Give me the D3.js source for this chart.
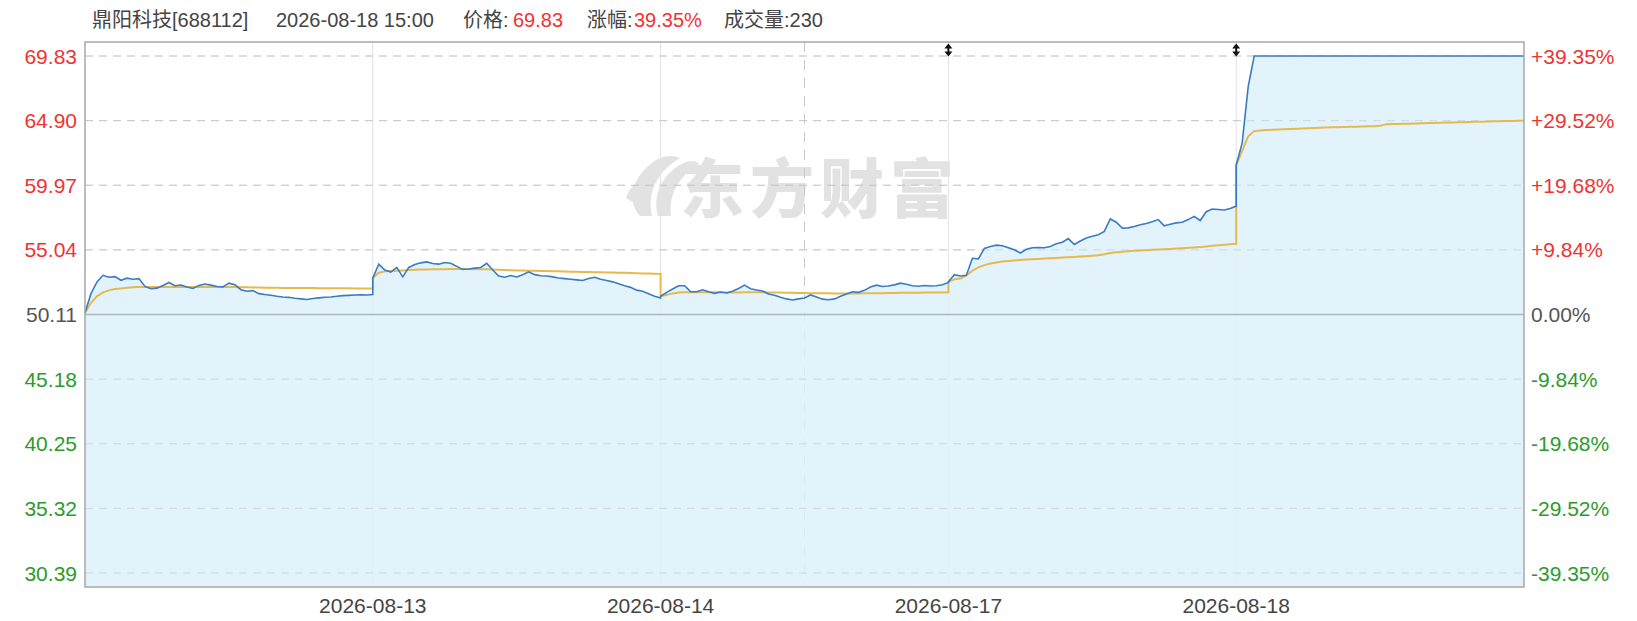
<!DOCTYPE html>
<html>
<head>
<meta charset="utf-8">
<script src="https://cdn.jsdelivr.net/npm/d3@7"></script>
<style>
  html, body { margin: 0; padding: 0; background: #fff; }
  svg { display: block; }
  text { font-family: "Liberation Sans", Arial, "Noto Sans CJK SC", sans-serif; }
</style>
</head>
<body>
<svg id="chart" width="1637" height="621"></svg>
<script>
// ---------------- data ----------------
const dayLabels = ["2026-08-12", "2026-08-13", "2026-08-14", "2026-08-17", "2026-08-18"];
const prevClose = 50.11;
const priceTicks = [69.83, 64.90, 59.97, 55.04, 50.11, 45.18, 40.25, 35.32, 30.39];
const priceTickLabels = ["69.83", "64.90", "59.97", "55.04", "50.11", "45.18", "40.25", "35.32", "30.39"];
const pctTickLabels = ["+39.35%", "+29.52%", "+19.68%", "+9.84%", "0.00%", "-9.84%", "-19.68%", "-29.52%", "-39.35%"];
const minutesPerDay = 240;
const sampleStep = 5; // minutes between samples

// price, 5-minute samples per trading day (09:30 .. 15:00)
const price0812 = [50.25,51.7,52.6,53.1,52.95,53.0,52.72,52.88,52.8,52.85,52.25,52.08,52.12,52.33,52.55,52.3,52.36,52.2,52.1,52.33,52.44,52.35,52.25,52.22,52.5,52.38,52.0,51.88,51.93,51.7,51.63,51.58,51.5,51.45,51.42,51.35,51.3,51.25,51.33,51.38,51.43,51.45,51.5,51.55,51.57,51.6,51.62,51.6,51.63];
const price0813 = [52.9,53.95,53.5,53.35,53.7,52.98,53.7,53.92,54.05,54.12,54.0,53.95,54.08,54.02,53.78,53.55,53.58,53.65,53.7,54.02,53.5,53.05,52.95,53.08,52.97,53.15,53.36,53.15,53.07,53.05,52.98,52.9,52.85,52.8,52.75,52.7,52.85,52.95,52.8,52.7,52.6,52.45,52.3,52.18,51.97,51.88,51.7,51.5,51.37];
const price0814 = [51.5,51.8,52.05,52.3,52.3,51.85,51.85,52.0,51.85,51.72,51.82,51.75,51.88,52.1,52.35,52.08,51.98,51.9,51.68,51.58,51.42,51.3,51.22,51.3,51.37,51.6,51.44,51.28,51.23,51.3,51.5,51.68,51.85,51.8,51.95,52.2,52.35,52.25,52.28,52.37,52.5,52.42,52.3,52.27,52.32,52.28,52.3,52.38,52.55];
const price0817 = [52.6,53.15,53.05,53.1,54.4,54.35,55.15,55.3,55.4,55.35,55.2,55.05,54.8,55.08,55.2,55.22,55.2,55.3,55.5,55.62,55.9,55.45,55.72,55.95,56.08,56.2,56.45,57.4,57.15,56.7,56.72,56.82,56.95,57.05,57.18,57.35,56.88,57.0,57.1,57.15,57.35,57.6,57.28,57.95,58.15,58.12,58.08,58.2,58.38];
const price0818 = [61.5,63.2,67.5,69.83,69.83,69.83,69.83,69.83,69.83,69.83,69.83,69.83,69.83,69.83,69.83,69.83,69.83,69.83,69.83,69.83,69.83,69.83,69.83,69.83,69.83,69.83,69.83,69.83,69.83,69.83,69.83,69.83,69.83,69.83,69.83,69.83,69.83,69.83,69.83,69.83,69.83,69.83,69.83,69.83,69.83,69.83,69.83,69.83,69.83];

// average price (VWAP) per day
const avg0812 = [50.25,51.0,51.5,51.8,51.95,52.05,52.1,52.15,52.18,52.2,52.2,52.2,52.2,52.2,52.2,52.2,52.2,52.2,52.2,52.2,52.2,52.2,52.2,52.2,52.2,52.2,52.18,52.18,52.17,52.17,52.16,52.15,52.15,52.14,52.14,52.14,52.13,52.13,52.13,52.12,52.12,52.12,52.11,52.11,52.11,52.1,52.1,52.1,52.1];
const avg0813 = [52.9,53.3,53.4,53.42,53.45,53.47,53.5,53.52,53.54,53.55,53.56,53.57,53.57,53.58,53.58,53.58,53.58,53.57,53.57,53.56,53.55,53.53,53.51,53.49,53.47,53.46,53.45,53.44,53.43,53.42,53.41,53.4,53.39,53.38,53.37,53.36,53.35,53.34,53.33,53.32,53.31,53.3,53.29,53.27,53.26,53.24,53.23,53.21,53.2];
const avg0814 = [51.5,51.62,51.72,51.78,51.8,51.81,51.81,51.81,51.8,51.8,51.8,51.79,51.79,51.79,51.8,51.8,51.8,51.8,51.79,51.79,51.78,51.77,51.76,51.75,51.75,51.74,51.74,51.73,51.73,51.72,51.72,51.72,51.72,51.72,51.73,51.73,51.74,51.74,51.75,51.75,51.76,51.76,51.77,51.77,51.78,51.78,51.79,51.79,51.8];
const avg0817 = [52.6,52.8,52.85,53.1,53.45,53.7,53.88,54.0,54.08,54.15,54.2,54.23,54.27,54.3,54.33,54.35,54.38,54.4,54.42,54.45,54.47,54.5,54.53,54.56,54.6,54.63,54.7,54.8,54.85,54.9,54.94,54.97,55.0,55.02,55.05,55.07,55.09,55.11,55.14,55.17,55.2,55.22,55.25,55.3,55.35,55.4,55.43,55.47,55.5];
const avg0818 = [61.5,62.6,63.7,64.1,64.15,64.18,64.2,64.22,64.24,64.26,64.28,64.3,64.32,64.33,64.35,64.37,64.39,64.4,64.42,64.43,64.44,64.45,64.47,64.48,64.5,64.62,64.64,64.65,64.66,64.67,64.68,64.7,64.71,64.72,64.74,64.75,64.76,64.77,64.78,64.8,64.81,64.82,64.84,64.85,64.86,64.87,64.88,64.89,64.9];

const markerDays = [3, 4]; // small event markers at top

const header = {
  name: "鼎阳科技[688112]",
  time: "2026-08-18 15:00",
  priceLabel: "价格:", priceValue: "69.83",
  changeLabel: "涨幅:", changeValue: "39.35%",
  volume: "成交量:230"
};

// ---------------- layout ----------------
const W = 1637, H = 621;
const plot = { left: 85, right: 1524, top: 42, bottom: 587 };
const RED = "#ee3333", GREEN = "#2b9b2b", GREY = "#555555";

const svg = d3.select("#chart");

const x = d3.scaleLinear().domain([0, minutesPerDay * dayLabels.length]).range([plot.left, plot.right]);
const y = d3.scaleLinear().domain([30.39, 69.83]).range([573, 56]);

const priceDays = [price0812, price0813, price0814, price0817, price0818];
const avgDays = [avg0812, avg0813, avg0814, avg0817, avg0818];
function toPoints(days) {
  const pts = [];
  days.forEach((arr, d) => arr.forEach((v, i) => pts.push({ t: d * minutesPerDay + i * sampleStep, v })));
  return pts;
}
const pricePts = toPoints(priceDays);
const avgPts = toPoints(avgDays);

// plot background
svg.append("rect").attr("x", plot.left).attr("y", plot.top)
  .attr("width", plot.right - plot.left).attr("height", plot.bottom - plot.top)
  .attr("fill", "#fff");

// watermark
const wm = svg.append("g").attr("fill", "#e2e2e2");
wm.append("path").attr("d", "M640,216 C626,200 632,176 656,160 C665,155 674,155 680,158 C660,170 646,190 652,216 Z");
wm.append("path").attr("d", "M658,216 C652,196 662,172 686,162 C692,160 697,161 699,164 C680,175 668,194 671,216 Z");
wm.append("path").attr("d", "M626,198 C629,188 637,181 645,179 C639,187 637,195 639,206 Z");
wm.append("text").attr("x", 820).attr("y", 212).attr("text-anchor", "middle")
  .attr("font-size", 64).attr("font-weight", 900).attr("letter-spacing", 6)
  .style("font-family", "'Noto Sans CJK SC', sans-serif")
  .text("东方财富");

// horizontal grid
svg.append("g").selectAll("line").data(priceTicks).join("line")
  .attr("x1", plot.left).attr("x2", plot.right)
  .attr("y1", d => y(d)).attr("y2", d => y(d))
  .attr("stroke", d => d === prevClose ? "#aeb8c0" : "#c8c8c8")
  .attr("stroke-width", d => d === prevClose ? 1.3 : 1)
  .attr("stroke-dasharray", d => d === prevClose ? null : "8,6");

// vertical day lines
svg.append("g").selectAll("line").data(d3.range(1, dayLabels.length)).join("line")
  .attr("x1", d => x(d * minutesPerDay)).attr("x2", d => x(d * minutesPerDay))
  .attr("y1", plot.top).attr("y2", plot.bottom)
  .attr("stroke", "#e2e2e2").attr("stroke-width", 1);
// middle dashed
svg.append("line")
  .attr("x1", x(minutesPerDay * dayLabels.length / 2)).attr("x2", x(minutesPerDay * dayLabels.length / 2))
  .attr("y1", plot.top).attr("y2", plot.bottom)
  .attr("stroke", "#c8c8c8").attr("stroke-dasharray", "10,8");

// area
const area = d3.area().x(d => x(d.t)).y0(plot.bottom).y1(d => y(d.v));
svg.append("path").datum(pricePts).attr("d", area)
  .attr("fill", "#def1fb").attr("fill-opacity", 0.85);

// redraw grid lightly over the area (gridlines visible in fill)
svg.append("g").selectAll("line").data(priceTicks.filter(d => d !== prevClose)).join("line")
  .attr("x1", plot.left).attr("x2", plot.right)
  .attr("y1", d => y(d)).attr("y2", d => y(d))
  .attr("stroke", "#c8c8c8").attr("stroke-opacity", 0.5).attr("stroke-dasharray", "8,6");
svg.append("line").attr("x1", plot.left).attr("x2", plot.right)
  .attr("y1", y(prevClose)).attr("y2", y(prevClose))
  .attr("stroke", "#aeb8c0").attr("stroke-width", 1.3);

// lines
const line = d3.line().x(d => x(d.t)).y(d => y(d.v));
svg.append("path").datum(avgPts).attr("d", line)
  .attr("fill", "none").attr("stroke", "#e6b94c").attr("stroke-width", 2);
svg.append("path").datum(pricePts).attr("d", line)
  .attr("fill", "none").attr("stroke", "#3a7cc3").attr("stroke-width", 1.6);

// border
svg.append("rect").attr("x", plot.left).attr("y", plot.top)
  .attr("width", plot.right - plot.left).attr("height", plot.bottom - plot.top)
  .attr("fill", "none").attr("stroke", "#a8a8a8").attr("stroke-width", 1.5);

// markers
svg.append("g").selectAll("path").data(markerDays).join("path")
  .attr("d", d => {
    const cx = x(d * minutesPerDay);
    return `M${cx},43.5 L${cx + 4},48.5 L${cx + 1},48.5 L${cx + 1},51.5 L${cx + 4},51.5 L${cx},56.5 L${cx - 4},51.5 L${cx - 1},51.5 L${cx - 1},48.5 L${cx - 4},48.5 Z`;
  })
  .attr("fill", "#111");

// left axis labels
const colorFor = (v) => v > prevClose + 1e-9 ? RED : (v < prevClose - 1e-9 ? GREEN : GREY);
svg.append("g").selectAll("text").data(priceTicks).join("text")
  .attr("x", 77).attr("y", d => y(d) + 7.5)
  .attr("text-anchor", "end").attr("font-size", 21)
  .attr("fill", d => colorFor(d))
  .text((d, i) => priceTickLabels[i]);

// right axis labels
svg.append("g").selectAll("text").data(priceTicks).join("text")
  .attr("x", 1531).attr("y", d => y(d) + 7.5)
  .attr("text-anchor", "start").attr("font-size", 21)
  .attr("fill", d => colorFor(d))
  .text((d, i) => pctTickLabels[i]);

// date labels
svg.append("g").selectAll("text").data(dayLabels.slice(1)).join("text")
  .attr("x", (d, i) => x((i + 1) * minutesPerDay)).attr("y", 613)
  .attr("text-anchor", "middle").attr("font-size", 21).attr("fill", "#444")
  .text(d => d);

// header
const hd = svg.append("text").attr("y", 27).attr("font-size", 20).attr("fill", "#444");
hd.append("tspan").attr("x", 92).text(header.name);
hd.append("tspan").attr("x", 276).text(header.time);
hd.append("tspan").attr("x", 463).text(header.priceLabel);
hd.append("tspan").attr("x", 513).attr("fill", RED).text(header.priceValue);
hd.append("tspan").attr("x", 587).text(header.changeLabel);
hd.append("tspan").attr("x", 634).attr("fill", RED).text(header.changeValue);
hd.append("tspan").attr("x", 724).text(header.volume);
</script>
</body>
</html>
